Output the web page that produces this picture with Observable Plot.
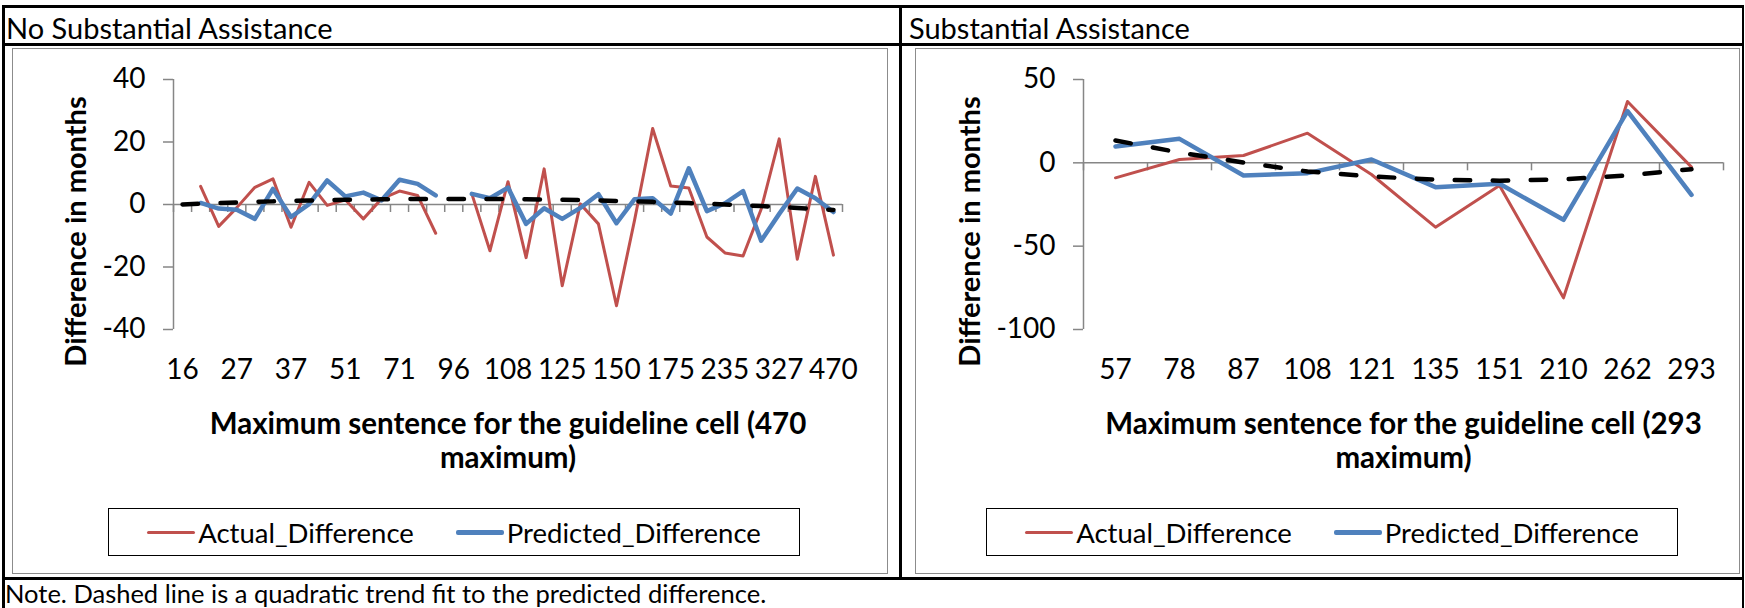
<!DOCTYPE html>
<html>
<head>
<meta charset="utf-8">
<script src="https://cdn.jsdelivr.net/npm/d3@7"></script>
<script src="https://cdn.jsdelivr.net/npm/@observablehq/plot@0.6"></script>
<style>
  html, body { margin: 0; padding: 0; background: #fff; }
  #page { position: relative; width: 1745px; height: 608px; overflow: hidden; background: #fff;
          font-family: Lato, "Open Sans", "Noto Sans", sans-serif; color: #000; }
  .line { position: absolute; background: #000; }
  .frame { position: absolute; border: 1.5px solid #8c8c8c; box-sizing: border-box; }
  .cellText { position: absolute; font-size: 29px; white-space: nowrap; }
  .legend { position: absolute; border: 1.5px solid #000; box-sizing: border-box; display: flex;
            align-items: center; justify-content: center; font-size: 27.5px; white-space: nowrap; }
  .legend .sw { display: inline-block; width: 48px; margin-right: 3px; border-radius: 2px; }
  .legend .item { display: flex; align-items: center; }
  .legend .item + .item { margin-left: 42px; }
  .chart { position: absolute; top: 0; }
</style>
</head>
<body>
<div id="page"></div>
<script>
// ---------- data ----------
const panelTitles = ["No Substantial Assistance", "Substantial Assistance"];
const seriesNames = ["Actual_Difference", "Predicted_Difference"];
const noteText = "Note. Dashed line is a quadratic trend fit to the predicted difference.";
const yTitle = "Difference in months";

// Left panel: maximum sentence for the guideline cell (every third category is labelled)
const leftCategories = ["16","21","24","27","30","33","37","41","46","51","57","63","71","78","87","96","97","105","108","115","121","125","135","137","150","151","162","175","188","210","235","262","293","327","365","405","470"];
const leftActual = [null, 5.8, -7.0, -1.0, 5.5, 8.2, -7.3, 7.1, -0.3, 1.5, -4.6, 1.8, 4.3, 2.9, -9.2, null, 3.4, -14.8, 7.3, -17.0, 11.4, -26.0, 0.2, -6.2, -32.4, -5.0, 24.3, 5.9, 5.3, -10.4, -15.5, -16.5, -1.5, 21.0, -17.5, 9.0, -16.2];
const leftPredicted = [null, 0.5, -1.3, -1.7, -4.6, 5.0, -4.0, 0.1, 7.7, 2.6, 3.8, 1.3, 7.9, 6.6, 2.9, null, 3.4, 2.0, 5.4, -6.2, -1.2, -4.6, -1.1, 3.3, -6.0, 1.7, 2.0, -2.9, 11.6, -2.1, 0.4, 4.3, -11.6, -3.0, 5.1, 2.0, -2.4];
const leftTrend = [0.0, 0.25, 0.45, 0.65, 0.85, 1.0, 1.15, 1.3, 1.4, 1.5, 1.6, 1.67, 1.73, 1.77, 1.79, 1.8, 1.79, 1.77, 1.73, 1.67, 1.6, 1.5, 1.4, 1.3, 1.15, 1.0, 0.85, 0.65, 0.45, 0.25, 0.0, -0.25, -0.5, -0.8, -1.1, -1.4, -1.75];
const leftYTicks = [-40, -20, 0, 20, 40];
const leftXTitle = "Maximum sentence for the guideline cell (470\nmaximum)";

// Right panel
const rightCategories = ["57","78","87","108","121","135","151","210","262","293"];
const rightActual = [-9.0, 2.0, 4.4, 17.8, -7.0, -38.6, -13.6, -81.0, 36.8, -2.6];
const rightPredicted = [9.8, 14.4, -7.6, -6.2, 2.0, -14.6, -12.6, -34.2, 31.0, -19.2];
const rightTrend = [13.4, 6.2, 0.2, -5.2, -8.2, -10.1, -10.7, -9.9, -7.6, -3.8];
const rightYTicks = [-100, -50, 0, 50];
const rightXTitle = "Maximum sentence for the guideline cell (293\nmaximum)";

// ---------- styles ----------
const RED = "#C0504D", BLUE = "#4F81BD", AXIS = "#868686";
const FONT = "Lato, 'Open Sans', 'Noto Sans', sans-serif";
const H = 578, MT = 79, MB = 249;

function panel(cfg) {
  const n = cfg.categories.length;
  const rows = cfg.categories.map((c, i) => ({i, c, actual: cfg.actual[i], predicted: cfg.predicted[i], trend: cfg.trend[i]}));
  const plotW = cfg.width - cfg.marginLeft - cfg.marginRight;
  const plotH = H - MT - MB;
  const [y0, y1] = cfg.yDomain;
  const xTickLen = 8 * (y1 - y0) / plotH;
  const yTickLen = 10 * n / plotW;
  const bounds = d3.range(n + 1).map(k => k - 0.5);
  const labelled = rows.filter(r => r.i % cfg.labelEvery === 0);
  return Plot.plot({
    width: cfg.width, height: H,
    marginLeft: cfg.marginLeft, marginRight: cfg.marginRight, marginTop: MT, marginBottom: MB,
    x: {type: "linear", domain: [-0.5, n - 0.5], axis: null},
    y: {type: "linear", domain: cfg.yDomain, axis: null},
    style: {background: "transparent", overflow: "visible", fontFamily: FONT, color: "#000"},
    marks: [
      Plot.ruleY([0], {y: d => d, stroke: AXIS, strokeWidth: 1.5}),
      Plot.ruleX(bounds, {x: d => d, y1: 0, y2: -xTickLen, stroke: AXIS, strokeWidth: 1.5}),
      Plot.ruleX([-0.5], {x: d => d, y1: y0, y2: y1, stroke: AXIS, strokeWidth: 1.5}),
      Plot.ruleY(cfg.yTicks, {y: d => d, x1: -0.5 - yTickLen, x2: -0.5, stroke: AXIS, strokeWidth: 1.5}),
      Plot.text(cfg.yTicks, {y: d => d, frameAnchor: "left", dx: -28, textAnchor: "end", lineAnchor: "middle", text: d => String(d), fontSize: 28}),
      Plot.text(labelled, {x: "i", frameAnchor: "bottom", dy: 41, textAnchor: "middle", lineAnchor: "middle", text: "c", fontSize: 28}),
      Plot.text([yTitle], {frameAnchor: "left", dx: cfg.yTitleDx, dy: 27, rotate: -90, textAnchor: "middle", lineAnchor: "middle", text: d => d, fontWeight: "bold", fontSize: 29}),
      Plot.text([cfg.xTitle], {frameAnchor: "bottom", dy: 111, textAnchor: "middle", lineAnchor: "middle", text: d => d, fontWeight: "bold", fontSize: 29.5, lineHeight: 1.15}),
      Plot.line(rows, {x: "i", y: "actual", stroke: RED, strokeWidth: 3}),
      Plot.line(rows, {x: "i", y: "predicted", stroke: BLUE, strokeWidth: 4.5}),
      Plot.line(rows, {x: "i", y: "trend", stroke: "#000", strokeWidth: 4.5, strokeDasharray: "15.5,22.5", strokeLinecap: "round"})
    ]
  });
}

const page = document.getElementById("page");
function addDiv(cls, style, text) {
  const d = document.createElement("div");
  d.className = cls;
  Object.assign(d.style, style);
  if (text != null) d.textContent = text;
  page.appendChild(d);
  return d;
}

// chart frames
addDiv("frame", {left: "12px", top: "48px", width: "876px", height: "526px"});
addDiv("frame", {left: "915px", top: "48px", width: "825px", height: "526px"});

// charts
const left = panel({categories: leftCategories, actual: leftActual, predicted: leftPredicted, trend: leftTrend,
  yDomain: [-40, 40], yTicks: leftYTicks, labelEvery: 3, width: 900, marginLeft: 173, marginRight: 58,
  yTitleDx: -97, xTitle: leftXTitle});
left.classList.add("chart"); left.style.left = "0px";
page.appendChild(left);

const right = panel({categories: rightCategories, actual: rightActual, predicted: rightPredicted, trend: rightTrend,
  yDomain: [-100, 50], yTicks: rightYTicks, labelEvery: 1, width: 845, marginLeft: 183, marginRight: 22,
  yTitleDx: -113, xTitle: rightXTitle});
right.classList.add("chart"); right.style.left = "900px";
page.appendChild(right);

// legends
function legend(x) {
  const lg = addDiv("legend", {left: x + "px", top: "508px", width: "692px", height: "48px"});
  [[RED, 3], [BLUE, 5]].forEach(([c, w], k) => {
    const it = document.createElement("span"); it.className = "item";
    const sw = document.createElement("span"); sw.className = "sw";
    sw.style.background = c; sw.style.height = w + "px";
    const tx = document.createElement("span"); tx.textContent = seriesNames[k];
    it.appendChild(sw); it.appendChild(tx); lg.appendChild(it);
  });
}
legend(108);
legend(986);

// table rules
addDiv("line", {left: "2px", top: "5px", width: "1742px", height: "2.5px"});
addDiv("line", {left: "2px", top: "43px", width: "1742px", height: "2.5px"});
addDiv("line", {left: "2px", top: "577px", width: "1742px", height: "2.5px"});
addDiv("line", {left: "2px", top: "5px", width: "2.5px", height: "603px"});
addDiv("line", {left: "899px", top: "5px", width: "2.5px", height: "573px"});
addDiv("line", {left: "1741.5px", top: "5px", width: "2.5px", height: "603px"});

// cell texts
addDiv("cellText", {left: "6px", top: "10px", lineHeight: "36px"}, panelTitles[0]);
addDiv("cellText", {left: "909px", top: "10px", lineHeight: "36px"}, panelTitles[1]);
addDiv("cellText", {left: "5px", top: "578px", lineHeight: "30px", fontSize: "25.5px"}, noteText);
</script>
</body>
</html>
